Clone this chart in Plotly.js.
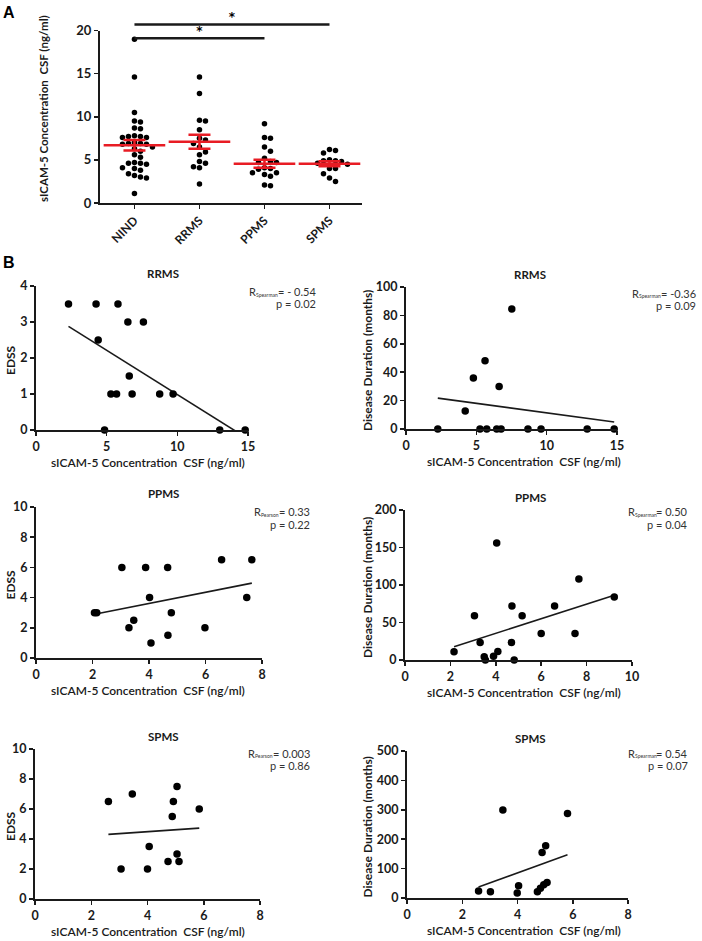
<!DOCTYPE html>
<html><head><meta charset="utf-8">
<script src="https://cdn.plot.ly/plotly-3.0.1.min.js"></script>
<style>html,body{margin:0;padding:0;background:#fff}#chart{width:702px;height:941px}</style>
</head><body><div id="chart"></div>
<script>
// ---------------- Panel A data ----------------
const groupsA = ['NIND', 'RRMS', 'PPMS', 'SPMS'];
const nindA = [19.0, 14.6, 10.5, 9.5, 9.4, 8.7, 8.6, 7.8, 7.7, 7.7, 7.6, 7.6, 7.0, 6.9, 6.9, 6.8, 6.8, 6.5, 6.3, 6.0, 5.6, 5.3, 4.7, 4.6, 4.6, 4.5, 4.1, 4.0, 3.8, 3.4, 3.2, 3.0, 2.9, 1.1];
const rrmsA = [14.6, 12.7, 9.6, 9.5, 8.5, 7.5, 7.3, 6.9, 6.5, 5.9, 5.6, 4.8, 4.6, 4.2, 4.1, 2.2];
const ppmsA = [9.2, 7.6, 7.5, 6.5, 6.0, 5.2, 4.8, 4.7, 4.7, 4.1, 4.0, 3.9, 3.5, 3.5, 3.3, 3.1, 2.1, 2.0];
const spmsA = [6.2, 6.1, 5.8, 5.0, 4.9, 4.9, 4.8, 4.6, 4.5, 4.0, 4.0, 3.4, 2.9, 2.5];
const meanA = [6.7, 7.1, 4.55, 4.55];
const semA = [0.6, 0.8, 0.45, 0.3];
const sigFrom = ['NIND', 'NIND'];
const sigTo = ['SPMS', 'PPMS'];
const sigLevel = [20.7, 19.1];
const sigMark = ['*', '*'];

// ---------------- Panel B data ----------------
const rrmsEdssConc = [2.3, 4.25, 5.8, 6.5, 7.6, 4.4, 6.6, 5.3, 5.7, 6.8, 8.75, 9.7, 4.85, 13.0, 14.8];
const rrmsEdss     = [3.5, 3.5, 3.5, 3, 3, 2.5, 1.5, 1, 1, 1, 1, 1, 0, 0, 0];
const rrmsDurConc  = [2.26, 4.21, 4.79, 5.26, 5.62, 5.74, 6.45, 6.62, 6.76, 7.52, 8.67, 9.6, 12.88, 14.8];
const rrmsDur      = [0, 12.7, 36, 0, 48, 0, 0, 30, 0, 84.5, 0, 0, 0, 0];
const ppmsEdssConc = [2.07, 2.15, 3.04, 3.88, 4.66, 4.02, 3.29, 3.46, 4.79, 4.07, 4.67, 5.98, 6.57, 7.64, 7.46];
const ppmsEdss     = [3, 3, 6, 6, 6, 4, 2, 2.5, 3, 1, 1.5, 2, 6.5, 6.5, 4];
const ppmsDurConc  = [2.16, 3.06, 3.31, 3.49, 3.54, 3.90, 4.09, 4.04, 4.71, 4.69, 4.81, 5.16, 6.0, 6.59, 7.49, 7.66, 9.22];
const ppmsDur      = [11, 59, 23.5, 4.4, 0, 5, 11.5, 156, 72, 23.5, 0, 59, 35.5, 72, 35.5, 108, 84];
const spmsEdssConc = [2.61, 3.46, 3.06, 4.0, 4.06, 4.73, 4.88, 4.92, 5.05, 5.05, 5.12, 5.84];
const spmsEdss     = [6.5, 7, 2, 2, 3.5, 2.5, 5.5, 6.5, 7.5, 3, 2.5, 6];
const spmsDurConc  = [2.59, 3.02, 3.47, 3.99, 4.04, 4.72, 4.83, 4.95, 5.07, 4.89, 5.02, 5.81];
const spmsDur      = [24, 21, 299, 17, 42, 21, 33, 45, 53, 155, 178, 287];

const statTitle = ['RRMS', 'RRMS', 'PPMS', 'PPMS', 'SPMS', 'SPMS'];
const statKind  = ['Spearman', 'Spearman', 'Pearson', 'Spearman', 'Pearson', 'Spearman'];
const statR     = ['- 0.54', '-0.36', '0.33', '0.50', '0.003', '0.54'];
const statP     = ['0.02', '0.09', '0.22', '0.04', '0.86', '0.07'];
const xTitle = 'sICAM-5 Concentration  CSF (ng/ml)';
const yTitles = ['EDSS', 'Disease Duration (months)'];

// ---------------- helpers ----------------
const W = 702, H = 941;
const fx = p => p / W;
const fy = p => 1 - p / H;
const FONT = 'Lato, "Open Sans", sans-serif';
const INK = '#1a1a1a';
const RED = 'rgb(232,28,36)';

const cv = document.createElement('canvas').getContext('2d');
function textWidth(t, size, weight) {
  cv.font = (weight || 400) + ' ' + size + 'px Lato, "Open Sans", sans-serif';
  return cv.measureText(t).width;
}

function swarm(vals, pxPerY, pxPerX, d, step) {
  const order = vals.map((v, i) => i).sort((a, b) => vals[b] - vals[a]);
  const placed = [];
  const off = new Array(vals.length).fill(0);
  for (const i of order) {
    const yp = vals[i] * pxPerY;
    for (let k = 0; k < 60; k++) {
      const c = (k === 0 ? 0 : (k % 2 === 1 ? 1 : -1) * Math.ceil(k / 2)) * step;
      if (placed.every(p => Math.hypot(p.x - c, p.y - yp) >= d)) {
        off[i] = c / pxPerX; placed.push({x: c, y: yp}); break;
      }
    }
  }
  return off;
}
function fit(xs, ys) {
  const n = xs.length;
  const mx = xs.reduce((a, b) => a + b, 0) / n, my = ys.reduce((a, b) => a + b, 0) / n;
  let sxy = 0, sxx = 0;
  for (let i = 0; i < n; i++) { sxy += (xs[i] - mx) * (ys[i] - my); sxx += (xs[i] - mx) ** 2; }
  const b = sxy / sxx, a = my - b * mx;
  const x0 = Math.min(...xs), x1 = Math.max(...xs);
  return {x: [x0, x1], y: [a + b * x0, a + b * x1]};
}

const axisBase = {
  showline: true, linecolor: INK, linewidth: 2, ticks: 'outside', ticklen: 4, tickwidth: 1.5,
  tickcolor: INK, showgrid: false, zeroline: false, fixedrange: true,
  tickfont: {family: FONT, size: 12.5, color: INK, weight: 700}
};

const traces = [];
const layout = {
  width: W, height: H, margin: {l: 0, r: 0, t: 0, b: 0}, autosize: false,
  paper_bgcolor: '#fff', plot_bgcolor: 'rgba(0,0,0,0)', showlegend: false,
  annotations: [], font: {family: FONT, color: INK}
};
function note(x, y, text, size, weight, opts) {
  layout.annotations.push(Object.assign({
    xref: 'paper', yref: 'paper', x: fx(x), y: fy(y), text: text, showarrow: false,
    xanchor: 'center', yanchor: 'middle',
    font: {family: FONT, size: size, color: INK, weight: weight || 400}
  }, opts || {}));
}

// ---------------- Panel A ----------------
const aX0 = 100, aX1 = 362, aYb = 203, aYt = 30.5;
const aRange = [-0.53, 3.5];
const pxPerXA = (aX1 - aX0) / (aRange[1] - aRange[0]);
const pxPerYA = (aYb - aYt) / 20;
layout.xaxis = Object.assign({}, axisBase, {
  domain: [fx(aX0), fx(aX1)], range: aRange, anchor: 'y',
  tickvals: groupsA.map((g, i) => i), ticktext: groupsA, tickangle: -45,
  tickfont: {family: FONT, size: 12, color: INK, weight: 700}
});
layout.yaxis = Object.assign({}, axisBase, {
  domain: [fy(aYb), fy(aYt)], range: [0, 20], anchor: 'x', dtick: 5,
  tickfont: {family: FONT, size: 13, color: INK, weight: 700}
});
const sigTop = 5;
layout.yaxis13 = {
  domain: [fy(aYb), fy(sigTop)], range: [0, (aYb - sigTop) / pxPerYA], anchor: 'x',
  visible: false, fixedrange: true, showgrid: false, zeroline: false
};
[nindA, rrmsA, ppmsA, spmsA].forEach((vals, gi) => {
  const off = swarm(vals, pxPerYA, pxPerXA, 5.8, 6);
  traces.push({
    type: 'scatter', mode: 'markers', xaxis: 'x', yaxis: 'y', cliponaxis: false,
    x: vals.map((v, i) => gi + off[i]), y: vals,
    marker: {size: 5.5, color: '#000'}, hoverinfo: 'y'
  });
});
traces.push({
  type: 'scatter', mode: 'markers', xaxis: 'x', yaxis: 'y', cliponaxis: false,
  x: groupsA.map((g, i) => i), y: meanA,
  marker: {symbol: 'line-ew-open', size: 44, line: {color: RED, width: 2.5}, color: RED},
  error_y: {type: 'data', array: semA, visible: true, color: RED, thickness: 2.5, width: 11}
});
sigFrom.forEach((f, k) => {
  const i0 = groupsA.indexOf(f), i1 = groupsA.indexOf(sigTo[k]);
  traces.push({
    type: 'scatter', mode: 'lines', xaxis: 'x', yaxis: 'y13', cliponaxis: false,
    x: [i0, i1], y: [sigLevel[k], sigLevel[k]], line: {color: INK, width: 2.5}, hoverinfo: 'skip'
  });
  traces.push({
    type: 'scatter', mode: 'text', xaxis: 'x', yaxis: 'y13', cliponaxis: false,
    x: [(i0 + i1) / 2], y: [sigLevel[k]], text: [sigMark[k]], textposition: 'top center',
    textfont: {family: '"DejaVu Sans", sans-serif', size: 12, color: '#000', weight: 700}, hoverinfo: 'skip'
  });
});
note(44, 109, xTitle, 11.5, 700, {textangle: -90});
note(9, 12, 'A', 16, 700, {font: {family: '"Liberation Sans", Arial, sans-serif', size: 16, color: '#000', weight: 700}});
note(9, 262, 'B', 16, 700, {font: {family: '"Liberation Sans", Arial, sans-serif', size: 16, color: '#000', weight: 700}});

// ---------------- Panel B ----------------
const panels = [
  {xs: rrmsEdssConc, ys: rrmsEdss, xr: [0, 15], xd: 5, yr: [0, 4], yd: 1, box: [36, 248, 286, 430], col: 0, statRight: 318, statY: 292},
  {xs: rrmsDurConc, ys: rrmsDur, xr: [0, 15], xd: 5, yr: [0, 100], yd: 20, box: [406, 617, 287, 429], col: 1, statRight: 698, statY: 293},
  {xs: ppmsEdssConc, ys: ppmsEdss, xr: [0, 8], xd: 2, yr: [0, 10], yd: 2, box: [36, 262, 507, 658], col: 0, statRight: 312, statY: 512},
  {xs: ppmsDurConc, ys: ppmsDur, xr: [0, 10], xd: 2, yr: [0, 200], yd: 50, box: [405, 632, 510, 660], col: 1, statRight: 690, statY: 512},
  {xs: spmsEdssConc, ys: spmsEdss, xr: [0, 8], xd: 2, yr: [0, 10], yd: 2, box: [35, 260, 749, 899], col: 0, statRight: 312, statY: 753},
  {xs: spmsDurConc, ys: spmsDur, xr: [0, 8], xd: 2, yr: [0, 500], yd: 100, box: [407, 628, 751, 898], col: 1, statRight: 690, statY: 753}
];
const STAT = 11, SUB = 5;
panels.forEach((p, k) => {
  const n = k + 2;
  const xa = 'x' + n, ya = 'y' + n;
  const [x0, x1, yt, yb] = p.box;
  layout['xaxis' + n] = Object.assign({}, axisBase, {domain: [fx(x0), fx(x1)], range: p.xr, dtick: p.xd, anchor: ya});
  layout['yaxis' + n] = Object.assign({}, axisBase, {domain: [fy(yb), fy(yt)], range: p.yr, dtick: p.yd, anchor: xa});
  const f = fit(p.xs, p.ys);
  traces.push({type: 'scatter', mode: 'lines', xaxis: xa, yaxis: ya, x: f.x, y: f.y,
    line: {color: INK, width: 1.6}, hoverinfo: 'skip'});
  traces.push({type: 'scatter', mode: 'markers', xaxis: xa, yaxis: ya, cliponaxis: false,
    x: p.xs, y: p.ys, marker: {size: 7.5, color: '#000'}});
  note(p.col === 0 ? 163 : 530, yt - 13, statTitle[k], 11.5, 700);
  const rest = '= ' + statR[k];
  const wRest = textWidth(rest, STAT);
  const wSub = textWidth(statKind[k], SUB);
  const grey = {family: FONT, size: STAT, color: '#333'};
  note(p.statRight, p.statY, rest, STAT, 400, {xanchor: 'right', font: grey});
  note(p.statRight - wRest, p.statY + 3, statKind[k], SUB, 400, {xanchor: 'right', font: {family: FONT, size: SUB, color: '#333'}});
  note(p.statRight - wRest - wSub, p.statY, 'R', STAT, 400, {xanchor: 'right', font: grey});
  note(p.statRight, p.statY + 12, 'p = ' + statP[k], STAT, 400, {xanchor: 'right', font: grey});
  note(p.col === 0 ? 148 : 524, yb + 32, xTitle, 12, 600);
  note(p.col === 0 ? 10 : 367, (yt + yb) / 2 + 2, yTitles[p.col], 12, 700, {textangle: -90});
});

Plotly.newPlot('chart', traces, layout, {displayModeBar: false, staticPlot: true});
</script>
</body></html>
